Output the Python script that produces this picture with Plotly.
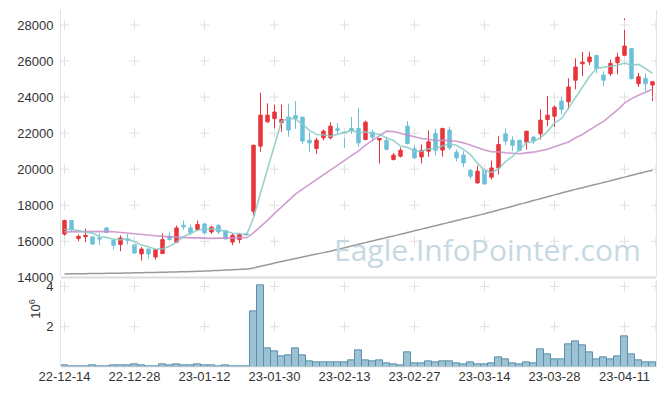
import pandas as pd
import plotly.graph_objects as go
from plotly.subplots import make_subplots

dates = [
    "22-12-14", "22-12-15", "22-12-16", "22-12-19", "22-12-20", "22-12-21", "22-12-22", "22-12-23",
    "22-12-26", "22-12-27", "22-12-28", "22-12-29",
    "23-01-02", "23-01-03", "23-01-04", "23-01-05", "23-01-06", "23-01-09", "23-01-10", "23-01-11",
    "23-01-12", "23-01-13", "23-01-16", "23-01-17", "23-01-18", "23-01-19", "23-01-20", "23-01-25",
    "23-01-26", "23-01-27", "23-01-30", "23-01-31",
    "23-02-01", "23-02-02", "23-02-03", "23-02-06", "23-02-07", "23-02-08", "23-02-09", "23-02-10",
    "23-02-13", "23-02-14", "23-02-15", "23-02-16", "23-02-17", "23-02-20", "23-02-21", "23-02-22",
    "23-02-23", "23-02-24", "23-02-27", "23-02-28",
    "23-03-02", "23-03-03", "23-03-06", "23-03-07", "23-03-08", "23-03-09", "23-03-10", "23-03-13",
    "23-03-14", "23-03-15", "23-03-16", "23-03-17", "23-03-20", "23-03-21", "23-03-22", "23-03-23",
    "23-03-24", "23-03-27", "23-03-28", "23-03-29", "23-03-30", "23-03-31",
    "23-04-03", "23-04-04", "23-04-05", "23-04-06", "23-04-07", "23-04-10", "23-04-11", "23-04-12",
    "23-04-13", "23-04-14", "23-04-17",
]

opens = [16400, 17150, 16150, 16250, 16240, 16180, 16740, 16050, 15820, 16130,
         15820, 15300, 15570, 15130, 15320, 16280, 15950, 16890, 16740, 16650,
         16960, 16520, 16870, 16590, 15960, 16100, 16420, 17670, 21280, 22630,
         22800, 22580, 22900, 22980, 22890, 21610, 21150, 21740, 21740, 22240,
         22060, 22260, 22260, 21650, 22050, 21620, 21590, 20540, 20720, 22390,
         21130, 20680, 21000, 21980, 21060, 22170, 20940, 20780, 19940, 19240,
         19940, 19560, 20070, 21960, 21610, 21610, 21500, 21780, 21960, 22760,
         22940, 23780, 23740, 24940, 25850, 25960, 26310, 25220, 25300, 25910,
         26320, 26690, 24740, 25040, 24670]
highs = [17200, 17170, 16370, 16700, 16250, 16450, 16780, 16060, 16330, 16400,
         15830, 15680, 15580, 15550, 16430, 16480, 16870, 17150, 16930, 17150,
         17020, 16870, 16960, 16600, 16460, 16460, 16460, 21350, 24240, 23650,
         23590, 23590, 23630, 23780, 22900, 22060, 21740, 22200, 22610, 22570,
         22110, 22900, 23400, 22700, 22200, 21740, 21800, 20900, 21200, 22670,
         21330, 21370, 22150, 22240, 22300, 22350, 21100, 21000, 20020, 20200,
         20000, 20480, 21830, 22260, 21830, 21620, 22120, 21830, 23320, 24060,
         23540, 24020, 25040, 26150, 26500, 26520, 26320, 25440, 26090, 26460,
         28370, 26700, 25350, 25320, 24860]
lows = [16300, 16550, 16000, 15950, 15780, 15800, 16450, 15540, 15450, 15820,
        15300, 14930, 15040, 14980, 15300, 16040, 15900, 16650, 16330, 16590,
        16370, 16410, 16410, 16120, 15780, 15900, 16330, 17430, 20960, 22570,
        21780, 22070, 21800, 22240, 21400, 20960, 20850, 21600, 21650, 21930,
        21190, 21960, 21240, 21600, 21560, 20320, 21050, 20480, 20650, 21370,
        20560, 20320, 20690, 20760, 20700, 21060, 20430, 20110, 19460, 19200,
        19130, 19430, 19700, 21320, 21000, 20990, 21090, 21400, 21650, 22390,
        22330, 23040, 23320, 24430, 25170, 25780, 25320, 24610, 25170, 25260,
        25910, 24980, 24560, 24330, 23780]
closes = [17150, 16650, 16280, 16330, 15850, 16130, 16500, 15780, 16180, 16060,
          15350, 15570, 15300, 15540, 16090, 16100, 16740, 16800, 16470, 16930,
          16470, 16780, 16520, 16130, 16330, 16370, 16380, 21330, 23000, 23000,
          23170, 22760, 22170, 22820, 21560, 21460, 21610, 22110, 22390, 22150,
          21980, 22130, 21460, 22610, 21780, 21700, 21100, 20780, 21050, 21430,
          20630, 21050, 21520, 21050, 22260, 21190, 20630, 20350, 19610, 19890,
          19190, 20070, 21370, 21560, 21330, 21040, 22110, 21560, 22720, 23000,
          23440, 23320, 24560, 25670, 25940, 26220, 25590, 24940, 25870, 26220,
          26830, 25020, 25130, 24740, 24850]

# volume in millions of shares
volumes = [0.08, 0.03, 0.03, 0.03, 0.08, 0.03, 0.03, 0.08, 0.08, 0.08,
           0.13, 0.08, 0.03, 0.03, 0.13, 0.08, 0.13, 0.08, 0.08, 0.13,
           0.08, 0.08, 0.03, 0.08, 0.03, 0.03, 0.03, 2.78, 4.03, 0.92,
           0.78, 0.53, 0.58, 0.92, 0.58, 0.30, 0.23, 0.23, 0.23, 0.23,
           0.23, 0.33, 0.83, 0.33, 0.28, 0.33, 0.18, 0.13, 0.08, 0.73,
           0.18, 0.18, 0.28, 0.23, 0.28, 0.28, 0.18, 0.13, 0.23, 0.13,
           0.13, 0.18, 0.48, 0.38, 0.18, 0.13, 0.23, 0.18, 0.88, 0.63,
           0.38, 0.38, 1.13, 1.28, 1.08, 0.73, 0.38, 0.48, 0.38, 0.53,
           1.53, 0.63, 0.33, 0.23, 0.23]

# moving-average values before enough in-window history exists
ma5_head = [16650, 16650, 16600, 16500]
ma20_head = [16520, 16530, 16540, 16550, 16555, 16555, 16550, 16530, 16500, 16470,
             16440, 16400, 16350, 16310, 16270, 16240, 16220, 16200, 16190]
# long moving average
ma_long = [14190, 14195, 14200, 14205, 14210, 14215, 14220, 14225, 14230, 14240,
           14250, 14258, 14266, 14274, 14282, 14290, 14300, 14310, 14320, 14335,
           14350, 14365, 14380, 14400, 14420, 14440, 14460, 14520, 14610, 14700,
           14790, 14875, 14960, 15045, 15130, 15210, 15290, 15370, 15450, 15545,
           15640, 15735, 15830, 15925, 16020, 16115, 16205, 16295, 16390, 16485,
           16580, 16675, 16770, 16865, 16960, 17055, 17150, 17245, 17340, 17430,
           17530, 17630, 17735, 17840, 17945, 18050, 18155, 18260, 18365, 18470,
           18575, 18680, 18780, 18880, 18975, 19070, 19165, 19260, 19360, 19460,
           19560, 19660, 19760, 19855, 19945]

price_ticks = [14000, 16000, 18000, 20000, 22000, 24000, 26000, 28000]
vol_ticks = [2, 4]

idx = list(range(len(dates)))
tick_idx = idx[::10]
tick_text = [dates[i] for i in tick_idx]

close_s = pd.Series(closes, dtype=float)
ma5 = close_s.rolling(5).mean().tolist()
ma5[:len(ma5_head)] = ma5_head
ma20 = close_s.rolling(20).mean().tolist()
ma20[:len(ma20_head)] = ma20_head

RED = "#e8353b"
BLUE = "#6cc0d9"
GRID = "#e0e0e0"
FONT = "Liberation Sans"
X_RANGE = [-0.5, len(dates) - 0.5]

fig = make_subplots(rows=2, cols=1, shared_xaxes=True, vertical_spacing=0.0085,
                    row_heights=[0.752, 0.2437])

# grid crosses (at x ticks, and at the right frame edge)
cross_x = tick_idx + [X_RANGE[1]]
cx, cy = [], []
for xv in cross_x:
    for p in price_ticks[1:]:
        cx.append(xv); cy.append(p)
fig.add_trace(go.Scatter(x=cx, y=cy, mode="markers", hoverinfo="skip",
                         marker=dict(symbol="cross-thin", size=7,
                                     line=dict(color=GRID, width=1)),
                         cliponaxis=False, showlegend=False), row=1, col=1)
vx, vy = [], []
for xv in cross_x:
    for v in vol_ticks:
        vx.append(xv); vy.append(v)
fig.add_trace(go.Scatter(x=vx, y=vy, mode="markers", hoverinfo="skip",
                         marker=dict(symbol="cross-thin", size=7,
                                     line=dict(color=GRID, width=1)),
                         cliponaxis=False, showlegend=False), row=2, col=1)

fig.add_trace(go.Scatter(x=idx, y=ma_long, mode="lines",
                         line=dict(color="#9a9a9a", width=1.5, shape="spline", smoothing=0.6),
                         showlegend=False, hoverinfo="skip"), row=1, col=1)
fig.add_trace(go.Scatter(x=idx, y=ma20, mode="lines",
                         line=dict(color="rgba(200,140,200,0.85)", width=1.6), showlegend=False,
                         hoverinfo="skip"), row=1, col=1)
fig.add_trace(go.Candlestick(x=idx, open=opens, high=highs, low=lows, close=closes,
                             increasing=dict(line=dict(color=RED, width=1), fillcolor=RED),
                             decreasing=dict(line=dict(color=BLUE, width=1), fillcolor=BLUE),
                             whiskerwidth=0, showlegend=False), row=1, col=1)
fig.add_trace(go.Scatter(x=idx, y=ma5, mode="lines",
                         line=dict(color="rgba(135,202,198,0.85)", width=1.6), showlegend=False,
                         hoverinfo="skip"), row=1, col=1)

fig.add_trace(go.Bar(x=idx, y=volumes, marker=dict(color="rgba(140,183,203,0.85)",
                                                   line=dict(color="#5a90ad", width=1)),
                     showlegend=False), row=2, col=1)

# The page body adds an 8px offset, so the figure is sized to fit inside the window.
fig.update_layout(
    width=649, height=380,
    margin=dict(l=53, r=1, t=2, b=21),
    paper_bgcolor="white", plot_bgcolor="white",
    font=dict(family=FONT, size=13, color="#333333"),
    bargap=0, boxgap=0.3,
    showlegend=False,
)
fig.update_xaxes(range=X_RANGE, showgrid=False, zeroline=False,
                 rangeslider=dict(visible=False), showline=False,
                 tickmode="array", tickvals=tick_idx, ticktext=tick_text,
                 ticks="", tickfont=dict(size=13, family=FONT, color="#333333"))
fig.update_xaxes(showticklabels=False, row=1, col=1)
fig.update_yaxes(range=[14000, 28833], tickvals=price_ticks, tickformat="d",
                 showgrid=False, zeroline=False,
                 ticks="", showline=True, linecolor="#e3e3e3", linewidth=1, mirror=True,
                 ticklabelstandoff=4, row=1, col=1)
fig.update_yaxes(range=[0, 4.3], tickvals=vol_ticks, tickformat="d",
                 showgrid=False, zeroline=False,
                 ticks="", showline=True, linecolor="#e3e3e3", linewidth=1, mirror=True,
                 ticklabelstandoff=4, row=2, col=1)

# panel separator and bottom frame
fig.add_shape(type="line", xref="paper", yref="paper", x0=0, x1=1, y0=0.2505, y1=0.2505,
              line=dict(color="#dcdcdc", width=2))
fig.add_shape(type="line", xref="paper", yref="paper", x0=0, x1=1, y0=0, y1=0,
              line=dict(color="#e8e8e8", width=1))

fig.add_annotation(text="10<sup>6</sup>", xref="paper", yref="paper", x=-0.062, y=0.13,
                   textangle=-90, showarrow=False, font=dict(size=13, color="#333333"))
fig.add_annotation(text="Eagle.InfoPointer.com", xref="paper", yref="paper",
                   x=0.978, y=0.266, xanchor="right", yanchor="bottom", showarrow=False,
                   font=dict(family="Open Sans", size=30, color="#c6d8e2"))

fig.write_html("out.html")
